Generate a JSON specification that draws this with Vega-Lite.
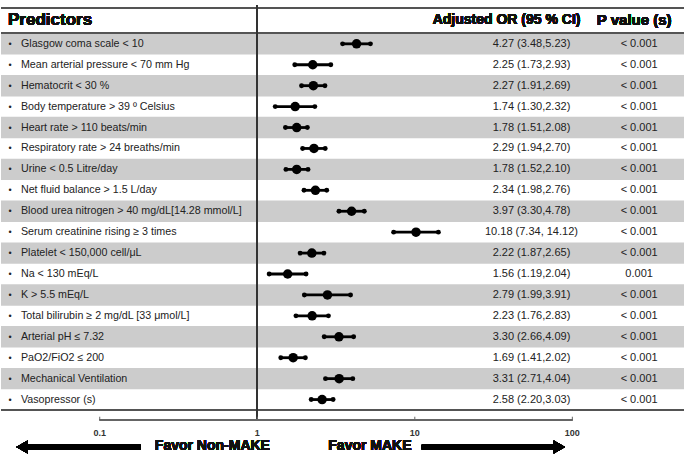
{
  "$schema": "https://vega.github.io/schema/vega-lite/v6.json",
  "width": 685,
  "height": 461,
  "autosize": {"type": "fit", "contains": "padding"},
  "padding": 0,
  "background": "white",
  "config": {"view": {"stroke": null}, "text": {"font": "Arial"}},
  "datasets": {
    "rows": [
      {"row": 1, "name": "Glasgow coma scale < 10", "or": 4.27, "lo": 3.48, "hi": 5.23, "ci": "4.27 (3.48,5.23)", "p": "< 0.001"},
      {"row": 2, "name": "Mean arterial pressure < 70 mm Hg", "or": 2.25, "lo": 1.73, "hi": 2.93, "ci": "2.25 (1.73,2.93)", "p": "< 0.001"},
      {"row": 3, "name": "Hematocrit < 30 %", "or": 2.27, "lo": 1.91, "hi": 2.69, "ci": "2.27 (1.91,2.69)", "p": "< 0.001"},
      {"row": 4, "name": "Body temperature > 39 º Celsius", "or": 1.74, "lo": 1.30, "hi": 2.32, "ci": "1.74 (1.30,2.32)", "p": "< 0.001"},
      {"row": 5, "name": "Heart rate > 110 beats/min", "or": 1.78, "lo": 1.51, "hi": 2.08, "ci": "1.78 (1.51,2.08)", "p": "< 0.001"},
      {"row": 6, "name": "Respiratory rate > 24 breaths/min", "or": 2.29, "lo": 1.94, "hi": 2.70, "ci": "2.29 (1.94,2.70)", "p": "< 0.001"},
      {"row": 7, "name": "Urine < 0.5 Litre/day", "or": 1.78, "lo": 1.52, "hi": 2.10, "ci": "1.78 (1.52,2.10)", "p": "< 0.001"},
      {"row": 8, "name": "Net fluid balance > 1.5 L/day", "or": 2.34, "lo": 1.98, "hi": 2.76, "ci": "2.34 (1.98,2.76)", "p": "< 0.001"},
      {"row": 9, "name": "Blood urea nitrogen > 40 mg/dL[14.28 mmol/L]", "or": 3.97, "lo": 3.30, "hi": 4.78, "ci": "3.97 (3.30,4.78)", "p": "< 0.001"},
      {"row": 10, "name": "Serum creatinine rising ≥ 3 times", "or": 10.18, "lo": 7.34, "hi": 14.12, "ci": "10.18 (7.34, 14.12)", "p": "< 0.001"},
      {"row": 11, "name": "Platelet < 150,000 cell/μL", "or": 2.22, "lo": 1.87, "hi": 2.65, "ci": "2.22 (1.87,2.65)", "p": "< 0.001"},
      {"row": 12, "name": "Na < 130 mEq/L", "or": 1.56, "lo": 1.19, "hi": 2.04, "ci": "1.56 (1.19,2.04)", "p": "0.001"},
      {"row": 13, "name": "K > 5.5 mEq/L", "or": 2.79, "lo": 1.99, "hi": 3.91, "ci": "2.79 (1.99,3.91)", "p": "< 0.001"},
      {"row": 14, "name": "Total bilirubin ≥ 2 mg/dL [33 μmol/L]", "or": 2.23, "lo": 1.76, "hi": 2.83, "ci": "2.23 (1.76,2.83)", "p": "< 0.001"},
      {"row": 15, "name": "Arterial pH ≤ 7.32", "or": 3.30, "lo": 2.66, "hi": 4.09, "ci": "3.30 (2.66,4.09)", "p": "< 0.001"},
      {"row": 16, "name": "PaO2/FiO2 ≤ 200", "or": 1.69, "lo": 1.41, "hi": 2.02, "ci": "1.69 (1.41,2.02)", "p": "< 0.001"},
      {"row": 17, "name": "Mechanical Ventilation", "or": 3.31, "lo": 2.71, "hi": 4.04, "ci": "3.31 (2.71,4.04)", "p": "< 0.001"},
      {"row": 18, "name": "Vasopressor (s)", "or": 2.58, "lo": 2.20, "hi": 3.03, "ci": "2.58 (2.20,3.03)", "p": "< 0.001"}
    ],
    "ticks": [
      {"t": 0.1, "label": "0.1"},
      {"t": 1, "label": "1"},
      {"t": 10, "label": "10"},
      {"t": 100, "label": "100"}
    ]
  },
  "data": {"name": "rows"},
  "layer": [
    {
      "transform": [{"filter": "datum.row % 2 == 1"}],
      "mark": {"type": "bar", "orient": "horizontal", "color": "#cccccc", "height": 21.4},
      "encoding": {
        "x": {"datum": 0.02362, "scale": {"type": "log", "domain": [0.02362, 511.5], "nice": false}, "axis": null},
        "x2": {"datum": 511.5},
        "y": {"field": "row", "type": "quantitative", "scale": {"domain": [-0.8558, 20.697], "reverse": true, "nice": false, "zero": false}, "axis": null}
      }
    },
    {
      "mark": {"type": "rule", "color": "#555555", "strokeWidth": 1.3},
      "encoding": {"y": {"datum": -0.7155, "axis": null}}
    },
    {
      "mark": {"type": "rule", "color": "#555555", "strokeWidth": 1.3},
      "encoding": {"y": {"datum": 0.5, "axis": null}}
    },
    {
      "mark": {"type": "rule", "color": "#555555", "strokeWidth": 1.3},
      "encoding": {"y": {"datum": 18.5, "axis": null}}
    },
    {
      "mark": {"type": "rule", "color": "#333333", "strokeWidth": 1.2},
      "encoding": {
        "x": {"datum": 1, "axis": null},
        "y": {"datum": -0.8558, "axis": null},
        "y2": {"datum": 18.967}
      }
    },
    {
      "mark": {"type": "rule", "color": "#000000", "strokeWidth": 2.8},
      "encoding": {
        "x": {"field": "lo", "type": "quantitative", "axis": null},
        "x2": {"field": "hi"},
        "y": {"field": "row", "type": "quantitative", "axis": null}
      }
    },
    {
      "mark": {"type": "point", "filled": true, "color": "#000000", "size": 24, "opacity": 1},
      "encoding": {
        "x": {"field": "lo", "type": "quantitative", "axis": null},
        "y": {"field": "row", "type": "quantitative", "axis": null}
      }
    },
    {
      "mark": {"type": "point", "filled": true, "color": "#000000", "size": 24, "opacity": 1},
      "encoding": {
        "x": {"field": "hi", "type": "quantitative", "axis": null},
        "y": {"field": "row", "type": "quantitative", "axis": null}
      }
    },
    {
      "mark": {"type": "point", "filled": true, "color": "#000000", "size": 90, "opacity": 1},
      "encoding": {
        "x": {"field": "or", "type": "quantitative", "axis": null},
        "y": {"field": "row", "type": "quantitative", "axis": null}
      }
    },
    {
      "mark": {"type": "text", "text": "•", "fontSize": 9, "color": "#222222", "align": "center", "baseline": "middle"},
      "encoding": {
        "x": {"datum": 0.02694, "axis": null},
        "y": {"field": "row", "type": "quantitative", "axis": null}
      }
    },
    {
      "mark": {"type": "text", "fontSize": 10.7, "color": "#222222", "align": "left", "baseline": "middle"},
      "encoding": {
        "x": {"datum": 0.03162, "axis": null},
        "y": {"field": "row", "type": "quantitative", "axis": null},
        "text": {"field": "name"}
      }
    },
    {
      "mark": {"type": "text", "fontSize": 11, "color": "#222222", "align": "center", "baseline": "middle"},
      "encoding": {
        "x": {"datum": 55.02, "axis": null},
        "y": {"field": "row", "type": "quantitative", "axis": null},
        "text": {"field": "ci"}
      }
    },
    {
      "mark": {"type": "text", "fontSize": 11, "color": "#222222", "align": "center", "baseline": "middle"},
      "encoding": {
        "x": {"datum": 265.5, "axis": null},
        "y": {"field": "row", "type": "quantitative", "axis": null},
        "text": {"field": "p"}
      }
    },
    {
      "mark": {"type": "text", "text": "Predictors", "fontSize": 17, "fontWeight": "bold", "color": "#111111", "align": "left", "baseline": "middle"},
      "encoding": {
        "x": {"datum": 0.02617, "axis": null},
        "y": {"datum": -0.12, "axis": null}
      }
    },
    {
      "mark": {"type": "text", "text": "Adjusted OR (95 % CI)", "fontSize": 14, "fontWeight": "bold", "color": "#111111", "align": "center", "baseline": "middle"},
      "encoding": {
        "x": {"datum": 38.22, "axis": null},
        "y": {"datum": -0.13, "axis": null}
      }
    },
    {
      "mark": {"type": "text", "text": "P value (s)", "fontSize": 15, "fontWeight": "bold", "color": "#111111", "align": "center", "baseline": "middle"},
      "encoding": {
        "x": {"datum": 246.9, "axis": null},
        "y": {"datum": -0.13, "axis": null}
      }
    },
    {
      "mark": {"type": "rule", "color": "#666666", "strokeWidth": 1},
      "encoding": {
        "x": {"datum": 0.1, "axis": null},
        "x2": {"datum": 100},
        "y": {"datum": 18.967, "axis": null}
      }
    },
    {
      "data": {"name": "ticks"},
      "mark": {"type": "rule", "color": "#666666", "strokeWidth": 1},
      "encoding": {
        "x": {"field": "t", "type": "quantitative", "axis": null},
        "y": {"datum": 18.967, "axis": null},
        "y2": {"datum": 18.82}
      }
    },
    {
      "data": {"name": "ticks"},
      "mark": {"type": "text", "fontSize": 9, "fontWeight": "bold", "color": "#333333", "align": "center", "baseline": "middle"},
      "encoding": {
        "x": {"field": "t", "type": "quantitative", "axis": null},
        "y": {"datum": 19.62, "axis": null},
        "text": {"field": "label"}
      }
    },
    {
      "mark": {"type": "text", "text": "Favor Non-MAKE", "fontSize": 14, "fontWeight": "bold", "color": "#111111", "align": "center", "baseline": "middle"},
      "encoding": {
        "x": {"datum": 0.519, "axis": null},
        "y": {"datum": 20.23, "axis": null}
      }
    },
    {
      "mark": {"type": "text", "text": "Favor MAKE", "fontSize": 14, "fontWeight": "bold", "color": "#111111", "align": "center", "baseline": "middle"},
      "encoding": {
        "x": {"datum": 5.19, "axis": null},
        "y": {"datum": 20.23, "axis": null}
      }
    },
    {
      "mark": {"type": "rule", "color": "#000000", "strokeWidth": 4.8},
      "encoding": {
        "x": {"datum": 0.034, "axis": null},
        "x2": {"datum": 0.1817},
        "y": {"datum": 20.27, "axis": null}
      }
    },
    {
      "mark": {"type": "point", "shape": "triangle-left", "filled": true, "color": "#000000", "size": 170, "opacity": 1},
      "encoding": {
        "x": {"datum": 0.0321, "axis": null},
        "y": {"datum": 20.27, "axis": null}
      }
    },
    {
      "mark": {"type": "rule", "color": "#000000", "strokeWidth": 4.8},
      "encoding": {
        "x": {"datum": 11.07, "axis": null},
        "x2": {"datum": 78.06},
        "y": {"datum": 20.27, "axis": null}
      }
    },
    {
      "mark": {"type": "point", "shape": "triangle-right", "filled": true, "color": "#000000", "size": 170, "opacity": 1},
      "encoding": {
        "x": {"datum": 82.75, "axis": null},
        "y": {"datum": 20.27, "axis": null}
      }
    }
  ]
}
